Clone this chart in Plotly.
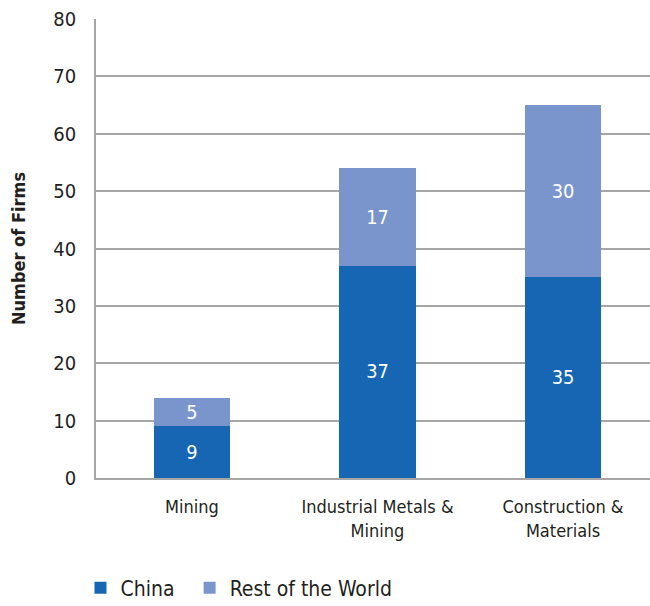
import plotly.graph_objects as go

categories = ["Mining", "Industrial Metals &<br>Mining", "Construction &<br>Materials"]
china = [9, 37, 35]
rest_of_world = [5, 17, 30]
y_ticks = [0, 10, 20, 30, 40, 50, 60, 70, 80]

FONT = "DejaVu Sans Condensed, Liberation Sans Narrow, Roboto, sans-serif"

fig = go.Figure()
fig.add_trace(go.Bar(x=categories, y=china, name="China", marker_color="#1666b4",
                     marker_line_width=0, text=china, textposition="inside",
                     insidetextanchor="middle", textangle=0, legend="legend",
                     textfont=dict(color="white", size=21, family=FONT)))
fig.add_trace(go.Bar(x=categories, y=rest_of_world, name="Rest of the World",
                     marker_color="#7a95cc", marker_line_width=0,
                     text=rest_of_world, textposition="inside",
                     insidetextanchor="middle", textangle=0, legend="legend2",
                     textfont=dict(color="white", size=21, family=FONT)))

legend_common = dict(orientation="h", xanchor="left", y=-0.195, yanchor="top",
                     font=dict(size=21, family=FONT), itemwidth=30,
                     bgcolor="rgba(0,0,0,0)")

fig.update_layout(
    barmode="stack",
    bargap=0.59,
    width=650, height=606,
    margin=dict(l=96, r=0, t=19, b=128, autoexpand=False),
    plot_bgcolor="white", paper_bgcolor="white",
    font=dict(family=FONT, size=19, color="#231f20"),
    showlegend=True,
    legend=dict(x=-0.028, **legend_common),
    legend2=dict(x=0.169, **legend_common),
    uniformtext=dict(mode="show", minsize=10),
)
fig.update_yaxes(range=[0, 80], tickvals=y_ticks, showgrid=True, gridcolor="#a6a6a6",
                 gridwidth=1.5, showline=True, linecolor="#a6a6a6", linewidth=1.5,
                 ticks="", ticklabelstandoff=14, zeroline=False, automargin=False,
                 title=dict(text="<b>Number of Firms</b>", standoff=23,
                            font=dict(size=18, family=FONT)),
                 tickfont=dict(size=20, family=FONT))
fig.update_xaxes(range=[-0.5175, 2.469], showline=True, linecolor="#a6a6a6",
                 linewidth=1.5, ticks="", automargin=False,
                 tickfont=dict(size=18, family=FONT), ticklabelstandoff=12)

fig.write_html("out.html")
